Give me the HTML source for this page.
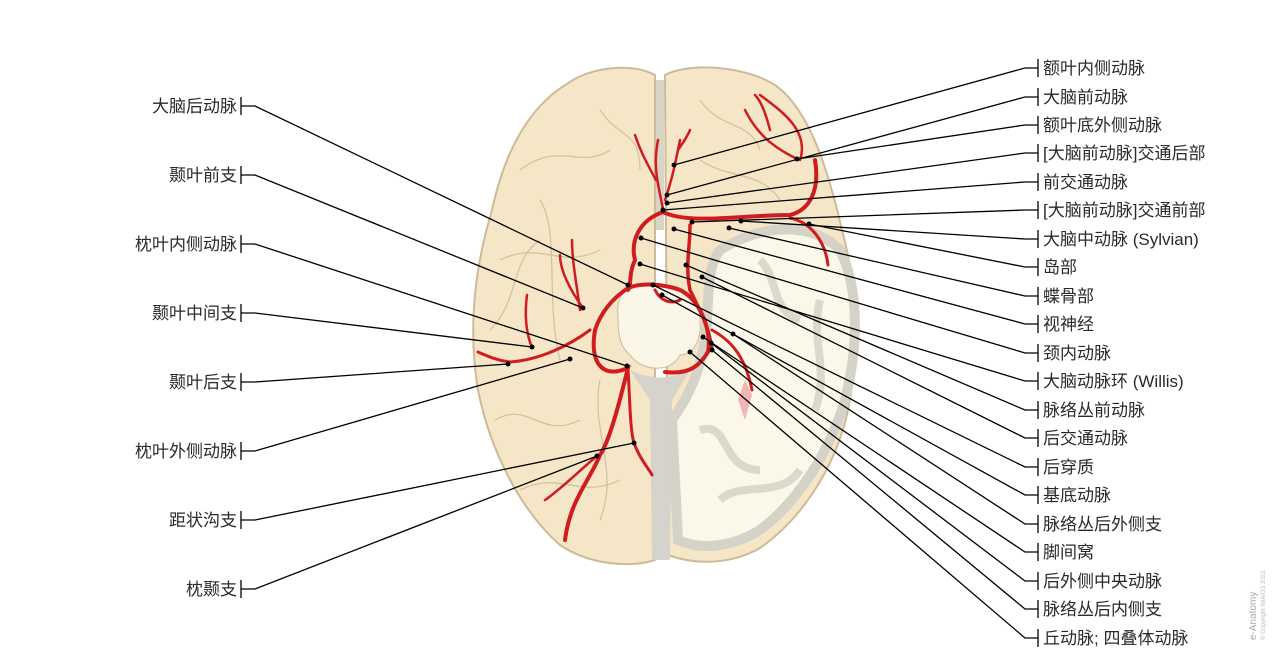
<!DOCTYPE html>
<html><head><meta charset="utf-8"><style>
html,body{margin:0;padding:0;background:#fff;}
svg{display:block}
text{font-family:"Liberation Sans","Noto Sans CJK SC",sans-serif;font-size:17px;fill:#2a2a2a;}
</style></head><body>
<svg width="1280" height="660" viewBox="0 0 1280 660" xmlns="http://www.w3.org/2000/svg">
<!-- brain left hemisphere -->
<path d="M655,75 C630,62 590,68 570,82 C530,105 505,150 492,210 C474,270 468,330 478,390 C490,450 520,510 560,545 C590,565 630,568 655,560 Z" fill="#f5e6c8" stroke="#cdbb98" stroke-width="2"/>
<!-- right hemisphere -->
<path d="M665,75 C690,62 745,66 775,85 C810,110 828,170 842,230 C858,290 860,350 848,410 C835,470 800,520 760,548 C730,565 695,565 668,555 Z" fill="#f5e6c8" stroke="#cdbb98" stroke-width="2"/>
<!-- midline -->
<rect x="656" y="80" width="8" height="150" fill="#d9d4c6"/>
<path d="M630,370 C650,380 670,380 690,370 L672,400 L670,560 L652,560 L650,400 Z" fill="#d6d3cc"/>
<!-- cut region right -->
<path d="M720,250 C760,225 810,220 840,250 C860,290 858,350 845,400 C830,450 800,500 760,530 C730,548 700,550 678,540 L672,420 C690,395 700,370 705,340 C710,300 705,270 720,250 Z" fill="#fbf8ea" stroke="#d5d2c8" stroke-width="10"/>
<g fill="none" stroke="#dcd8cc" stroke-width="8">
<path d="M760,260 C780,280 770,310 800,320"/>
<path d="M700,430 C730,420 720,470 760,470"/>
<path d="M720,500 C740,480 780,500 800,470"/>
<path d="M820,300 C810,340 830,370 815,410"/>
</g>
<path d="M745,380 L752,395 L745,420 L738,400 Z" fill="#f2b4b4"/>
<!-- gyri lines -->
<g fill="none" stroke="#d2c09c" stroke-width="1.2">
<path d="M520,170 C560,140 580,170 610,150"/>
<path d="M500,260 C540,240 560,270 600,250"/>
<path d="M490,330 C520,300 510,260 540,240"/>
<path d="M495,420 C530,400 540,440 580,420"/>
<path d="M520,490 C560,470 580,500 620,480"/>
<path d="M600,110 C620,140 640,130 640,170"/>
<path d="M700,100 C720,130 750,120 760,150"/>
<path d="M700,160 C730,180 760,170 780,200"/>
<path d="M540,200 C560,230 545,300 560,360"/>
<path d="M600,380 C590,430 620,470 600,520"/>
</g>
<!-- midbrain -->
<path d="M618,315 C615,290 635,282 655,285 C680,282 700,295 700,320 C702,345 690,355 680,355 C670,375 640,370 630,355 C618,345 618,330 618,315 Z" fill="#fbf7e8" stroke="#cdbb98"/>
<!-- arteries -->
<g fill="none" stroke="#d01c1f" stroke-linecap="round">
<path d="M663,210 C660,190 652,170 658,140 M665,200 C672,180 676,160 680,140 M656,180 C645,160 640,150 635,135 M678,150 C685,140 688,135 690,130" stroke-width="2.5"/>
<path d="M663,212 C640,220 630,240 635,260 C628,275 632,285 628,290" stroke-width="4"/>
<path d="M663,212 C690,225 740,215 790,215 C810,210 820,190 815,160" stroke-width="4"/>
<path d="M797,159 C780,150 760,140 745,110 M800,160 C810,130 780,110 760,95 M770,130 C765,110 760,100 755,95" stroke-width="2.5"/>
<path d="M790,218 C810,222 825,240 828,265" stroke-width="3"/>
<path d="M690,225 C690,250 685,265 690,290 C700,310 710,330 712,350" stroke-width="3.5"/>
<path d="M628,288 C610,300 600,315 595,330 C590,360 600,380 628,368 C620,400 610,440 600,455 C590,480 570,500 565,540" stroke-width="4"/>
<path d="M628,288 C640,283 660,283 680,290 C700,300 712,330 708,352 C700,365 690,375 665,372" stroke-width="4"/>
<path d="M590,330 C570,345 540,360 510,362 C495,360 485,355 478,352" stroke-width="3"/>
<path d="M583,308 C570,290 560,270 560,255 M580,310 C576,280 572,260 572,240" stroke-width="2.5"/>
<path d="M532,348 C525,330 525,310 527,295" stroke-width="2.5"/>
<path d="M628,370 C630,400 630,430 634,443 C640,460 650,470 652,475" stroke-width="3"/>
<path d="M597,456 C580,470 560,490 545,500" stroke-width="2.5"/>
<path d="M655,290 C660,300 670,305 680,300" stroke-width="3"/>
<path d="M712,330 C730,340 745,355 752,390" stroke-width="3"/>
</g>
<!-- leader lines -->
<g fill="none" stroke="#000" stroke-width="1.3">
<path d="M241,97v18M241,106h14L628,285"/>
<path d="M241,166v18M241,175h14L583,308"/>
<path d="M241,235v18M241,244h14L627,366"/>
<path d="M241,304v18M241,313h14L532,347"/>
<path d="M241,373v18M241,382h14L508,364"/>
<path d="M241,442v18M241,451h14L570,359"/>
<path d="M241,511v18M241,520h14L634,443"/>
<path d="M241,580v18M241,589h14L597,456"/>
<path d="M1038,59v18M1038,68h-13L674,165"/>
<path d="M1038,88v18M1038,97h-13L667,195"/>
<path d="M1038,116v18M1038,125h-13L797,159"/>
<path d="M1038,144v18M1038,153h-13L667,203"/>
<path d="M1038,173v18M1038,182h-13L663,210"/>
<path d="M1038,201v18M1038,210h-13L692,222"/>
<path d="M1038,230v18M1038,239h-13L741,221"/>
<path d="M1038,258v18M1038,267h-13L809,224"/>
<path d="M1038,287v18M1038,296h-13L729,228"/>
<path d="M1038,315v18M1038,324h-13L674,229"/>
<path d="M1038,344v18M1038,353h-13L641,238"/>
<path d="M1038,372v18M1038,381h-13L640,264"/>
<path d="M1038,401v18M1038,410h-13L686,265"/>
<path d="M1038,429v18M1038,438h-13L702,277"/>
<path d="M1038,458v18M1038,467h-13L653,285"/>
<path d="M1038,486v18M1038,495h-13L662,295"/>
<path d="M1038,515v18M1038,524h-13L733,334"/>
<path d="M1038,543v18M1038,552h-13L703,337"/>
<path d="M1038,572v18M1038,581h-13L711,343"/>
<path d="M1038,600v18M1038,609h-13L712,350"/>
<path d="M1038,629v18M1038,638h-13L690,352"/>
</g>
<g fill="#000">
<circle cx="628" cy="285" r="2.5"/><circle cx="583" cy="308" r="2.5"/><circle cx="627" cy="366" r="2.5"/><circle cx="532" cy="347" r="2.5"/><circle cx="508" cy="364" r="2.5"/><circle cx="570" cy="359" r="2.5"/><circle cx="634" cy="443" r="2.5"/><circle cx="597" cy="456" r="2.5"/>
<circle cx="674" cy="165" r="2.5"/><circle cx="667" cy="195" r="2.5"/><circle cx="797" cy="159" r="2.5"/><circle cx="667" cy="203" r="2.5"/><circle cx="663" cy="210" r="2.5"/><circle cx="692" cy="222" r="2.5"/><circle cx="741" cy="221" r="2.5"/><circle cx="809" cy="224" r="2.5"/><circle cx="729" cy="228" r="2.5"/><circle cx="674" cy="229" r="2.5"/><circle cx="641" cy="238" r="2.5"/><circle cx="640" cy="264" r="2.5"/><circle cx="686" cy="265" r="2.5"/><circle cx="702" cy="277" r="2.5"/><circle cx="653" cy="285" r="2.5"/><circle cx="662" cy="295" r="2.5"/><circle cx="733" cy="334" r="2.5"/><circle cx="703" cy="337" r="2.5"/><circle cx="711" cy="343" r="2.5"/><circle cx="712" cy="350" r="2.5"/><circle cx="690" cy="352" r="2.5"/>
</g>
<g text-anchor="end">
<text x="237" y="112">大脑后动脉</text>
<text x="237" y="181">颞叶前支</text>
<text x="237" y="250">枕叶内侧动脉</text>
<text x="237" y="319">颞叶中间支</text>
<text x="237" y="388">颞叶后支</text>
<text x="237" y="457">枕叶外侧动脉</text>
<text x="237" y="526">距状沟支</text>
<text x="237" y="595">枕颞支</text>
</g>
<g>
<text x="1043" y="74">额叶内侧动脉</text>
<text x="1043" y="103">大脑前动脉</text>
<text x="1043" y="131">额叶底外侧动脉</text>
<text x="1043" y="159">[大脑前动脉]交通后部</text>
<text x="1043" y="188">前交通动脉</text>
<text x="1043" y="216">[大脑前动脉]交通前部</text>
<text x="1043" y="245">大脑中动脉 (Sylvian)</text>
<text x="1043" y="273">岛部</text>
<text x="1043" y="302">蝶骨部</text>
<text x="1043" y="330">视神经</text>
<text x="1043" y="359">颈内动脉</text>
<text x="1043" y="387">大脑动脉环 (Willis)</text>
<text x="1043" y="416">脉络丛前动脉</text>
<text x="1043" y="444">后交通动脉</text>
<text x="1043" y="473">后穿质</text>
<text x="1043" y="501">基底动脉</text>
<text x="1043" y="530">脉络丛后外侧支</text>
<text x="1043" y="558">脚间窝</text>
<text x="1043" y="587">后外侧中央动脉</text>
<text x="1043" y="615">脉络丛后内侧支</text>
<text x="1043" y="644">丘动脉; 四叠体动脉</text>
</g>
<g transform="translate(1256,640) rotate(-90)">
<text x="0" y="0" style="font-size:10px;fill:#aaa">e-Anatomy</text>
<text x="0" y="9" style="font-size:6px;fill:#bbb">© Copyright IMAIOS 2022</text>
</g>
</svg>
</body></html>
